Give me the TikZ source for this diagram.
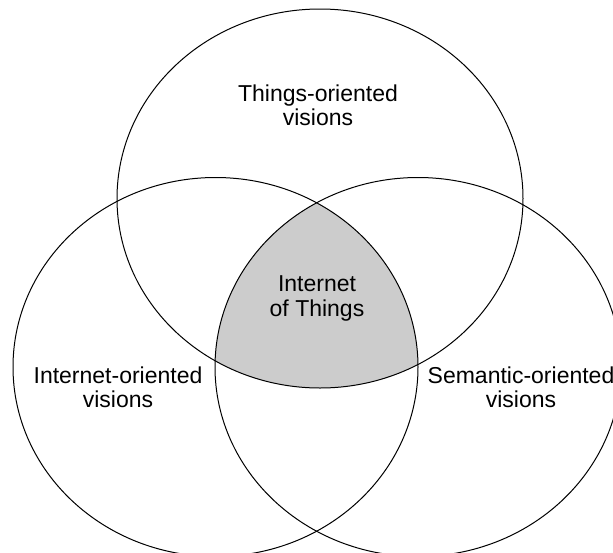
\documentclass[tikz,border=0pt]{standalone}
\usepackage{fontspec}
\setmainfont{Liberation Sans}
\begin{document}
\begin{tikzpicture}[x=1pt,y=-1pt,
  venn/.style={draw=black,line width=1pt},
  lbl/.style={font=\fontsize{23}{24.5}\selectfont,align=center,inner sep=0pt,anchor=base}]
\useasboundingbox (0,0) rectangle (613,552);
\fill[white] (0,0) rectangle (613,552);
\begin{scope}
  \clip (320,198.5) ellipse [x radius=203, y radius=189.5];
  \clip (215.5,367) ellipse [x radius=202.5, y radius=189.5];
  \fill[black!20] (418,367) ellipse [x radius=203, y radius=189.5];
\end{scope}
\draw[venn] (320,198.5) ellipse [x radius=203, y radius=189.5];
\draw[venn] (215.5,367) ellipse [x radius=202.5, y radius=189.5];
\draw[venn] (418,367) ellipse [x radius=203, y radius=189.5];
\node[lbl] (things) at (318,125.5) {Things-oriented\\visions};
\node[lbl] (iot) at (317,316) {Internet\\of Things};
\node[lbl] (internet) at (118,407.5) {Internet-oriented\\visions};
\node[lbl] (semantic) at (521,407.5) {Semantic-oriented\\visions};
\end{tikzpicture}
\end{document}
